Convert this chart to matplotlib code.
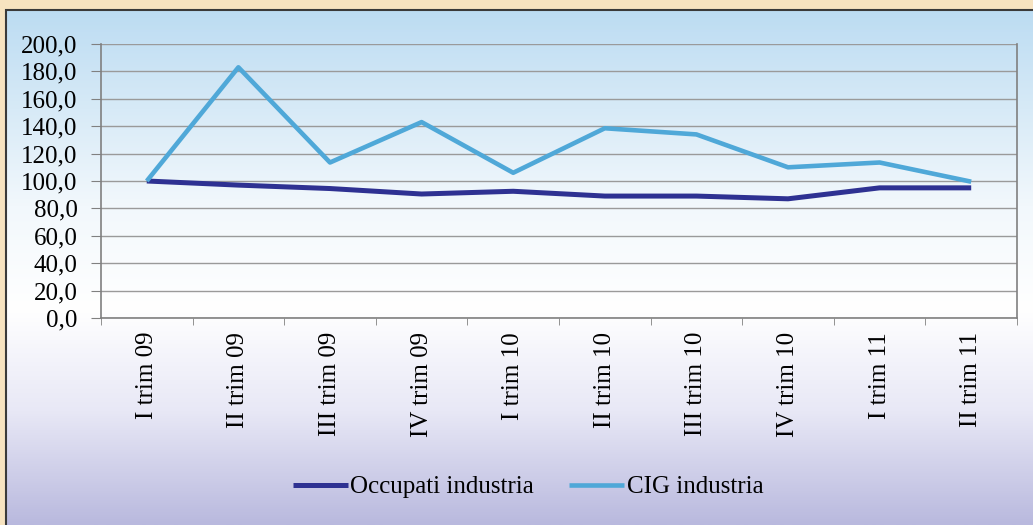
import numpy as np
import matplotlib
matplotlib.use("Agg")
import matplotlib.pyplot as plt
from matplotlib.colors import LinearSegmentedColormap
from matplotlib.patches import Rectangle

categories = ["I trim 09", "II trim 09", "III trim 09", "IV trim 09", "I trim 10",
              "II trim 10", "III trim 10", "IV trim 10", "I trim 11", "II trim 11"]
occupati = [100.0, 97.0, 94.5, 90.5, 92.5, 89.0, 89.0, 87.0, 95.0, 95.0]
cig = [100.0, 183.0, 113.5, 143.0, 106.0, 138.5, 134.0, 110.0, 113.5, 99.5]
yticks = [0, 20, 40, 60, 80, 100, 120, 140, 160, 180, 200]

plt.rcParams["font.family"] = ["Liberation Serif", "DejaVu Serif"]

W, H = 1033, 525
fig = plt.figure(figsize=(W / 100, H / 100), dpi=100)
fig.patch.set_facecolor("#F7E3C0")

# gradient panel background
bg = fig.add_axes([6 / W, 0, 1 - 6 / W, 1 - 10 / H])
grad = LinearSegmentedColormap.from_list(
    "bg", [(0.0, "#B9B9DE"), (0.22, "#E8E8F6"), (0.42, "#FFFFFF"),
           (0.62, "#F2F8FC"), (1.0, "#BCDCF2")])
bg.imshow(np.linspace(0, 1, 256).reshape(-1, 1), aspect="auto", cmap=grad,
          origin="lower", extent=[0, 1, 0, 1])
bg.set_xlim(0, 1)
bg.set_ylim(0, 1)
bg.axis("off")
fig.add_artist(Rectangle((6 / W, -0.01), 1.0, 1 - 10 / H + 0.01,
                         transform=fig.transFigure, fill=False,
                         edgecolor="#3A3A3A", linewidth=1.5, zorder=5))

ax = fig.add_axes([101 / W, (H - 318) / H, (1017 - 101) / W, (318 - 44) / H])
ax.patch.set_alpha(0)

x = np.arange(len(categories))
ax.plot(x, occupati, color="#2E3192", linewidth=3.6, label="Occupati industria",
        solid_capstyle="butt", zorder=3)
ax.plot(x, cig, color="#4FA8D8", linewidth=3.3, label="CIG industria",
        solid_capstyle="butt", zorder=3)

ax.set_xlim(-0.5, len(categories) - 0.5)
ax.set_ylim(0, 200)
ax.set_yticks(yticks)
ax.set_yticklabels([f"{v:.1f}".replace(".", ",") for v in yticks], fontsize=18)
ax.yaxis.grid(True, color="#9A9A9A", linewidth=1.0)
ax.set_axisbelow(True)

ax.set_xticks(x)
ax.set_xticklabels(categories, rotation=90, fontsize=18)
ax.tick_params(axis="x", length=0, pad=10)
ax.set_xticks(np.arange(len(categories) + 1) - 0.5, minor=True)
ax.tick_params(axis="x", which="minor", length=5, color="#808080")
ax.tick_params(axis="y", length=7, color="#808080", pad=10)

for s in ["left", "bottom", "right"]:
    ax.spines[s].set_color("#808080")
    ax.spines[s].set_linewidth(1.2)
ax.spines["top"].set_visible(False)

fig.legend(loc="center", bbox_to_anchor=(528 / W, 1 - 487 / H), ncol=2,
           frameon=False, fontsize=18, handlelength=2.2, handletextpad=0.1,
           columnspacing=1.4)

fig.savefig("out.png", dpi=100)
